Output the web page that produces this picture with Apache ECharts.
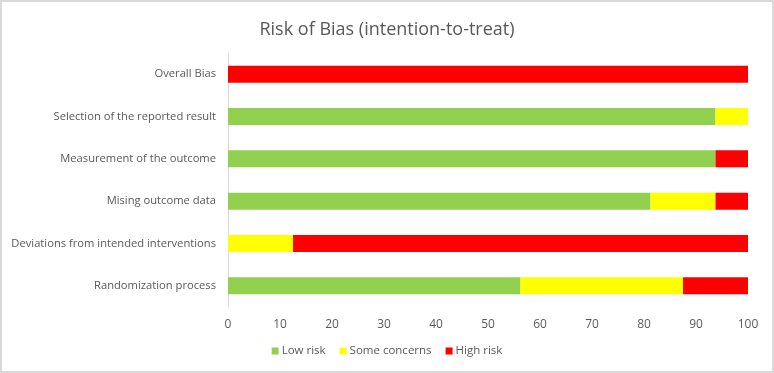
<!DOCTYPE html>
<html><head><meta charset="utf-8">
<script src="https://cdn.jsdelivr.net/npm/echarts@6/dist/echarts.min.js"></script>
<style>html,body{margin:0;padding:0;background:#fff}#c{width:774px;height:373px;box-sizing:border-box;border:2px solid #d9d9d9;}</style>
</head><body><div id="c"></div>
<script>
const categories = ["Randomization process","Deviations from intended interventions","Mising outcome data","Measurement of the outcome","Selection of the reported result","Overall Bias"];
const lowRisk = [56.25, 0, 81.25, 93.75, 93.75, 0];
const someConcerns = [31.25, 12.5, 12.5, 0, 6.25, 0];
const highRisk = [12.5, 87.5, 6.25, 6.25, 0, 100];
const xTicks = [0,10,20,30,40,50,60,70,80,90,100];

const font = "'Open Sans', sans-serif";
const chart = echarts.init(document.getElementById('c'));
function s(name, data, color){
  return {name, type:'bar', stack:'a', data, barWidth:'40%', itemStyle:{color}, emphasis:{disabled:true}};
}
chart.setOption({
  animation:false,
  title:{text:'Risk of Bias (intention-to-treat)', left:'center', top:14, textStyle:{fontFamily:font, fontSize:18, fontWeight:'normal', color:'#595959'}},
  grid:{left:226, right:24, top:51, bottom:64, containLabel:false},
  legend:{bottom:9, left:'center', itemWidth:7, itemHeight:7, itemGap:14, icon:'rect', textStyle:{fontFamily:font, fontSize:11.5, color:'#595959', padding:[0,0,0,-2]}, data:['Low risk','Some concerns','High risk']},
  xAxis:{type:'value', min:xTicks[0], max:xTicks[xTicks.length-1], interval:10, axisLine:{show:false}, axisTick:{show:false}, splitLine:{show:false}, axisLabel:{fontFamily:font, fontSize:12, color:'#595959', margin:12}},
  yAxis:{type:'category', data:categories, axisLine:{show:true, lineStyle:{color:'#d9d9d9'}}, axisTick:{show:false}, axisLabel:{fontFamily:font, fontSize:11.2, color:'#595959', margin:12}},
  series:[s('Low risk', lowRisk, '#92d050'), s('Some concerns', someConcerns, '#ffff00'), s('High risk', highRisk, '#ff0000')]
});
</script></body></html>
